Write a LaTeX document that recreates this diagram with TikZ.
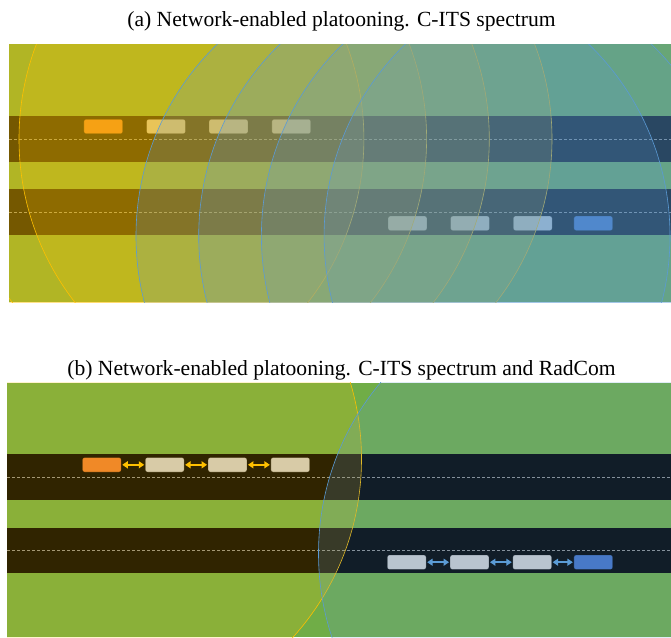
\documentclass[tikz,border=0pt]{standalone}
\usepackage{fontspec}
\setmainfont{Liberation Serif}
\usetikzlibrary{arrows.meta}
\definecolor{cGreen}{HTML}{70AD47}
\definecolor{cYel}{HTML}{FFC000}
\definecolor{cBlue}{HTML}{5B9BD5}
\definecolor{cOrange}{HTML}{ED7D31}
\definecolor{cCar}{HTML}{D0CECE}
\definecolor{cLead}{HTML}{4472C4}
\definecolor{cLane}{HTML}{8F8F8F}
\begin{document}
\begin{tikzpicture}[x=1pt,y=-1pt,
  title/.style={font=\fontsize{21.6}{25}\selectfont, inner sep=0pt, anchor=base},
  car/.style={rectangle, rounded corners=2.2pt, minimum width=38.7pt, minimum height=14.4pt, inner sep=0pt, draw=black, draw opacity=0.3, line width=0.6pt},
  road/.style={fill=black},
  lane/.style={draw=cLane, line width=0.5pt, dash pattern=on 3pt off 2pt},
  ycirc/.style={fill=cYel, fill opacity=0.19, draw=cYel, line width=0.6pt},
  bcirc/.style={fill=cBlue, fill opacity=0.19, draw=cBlue, line width=0.6pt},
  link/.style={{Triangle[length=5.5pt,width=7pt]}-{Triangle[length=5.5pt,width=7pt]}, line width=2pt, shorten <=0.8pt, shorten >=0.8pt}
]
\useasboundingbox (0,0) rectangle (671,637);

% ---------------- Panel (a) ----------------
\node[title] (ta) at (341.5,26.8) {(a) Network-enabled platooning. C-ITS spectrum};
\begin{scope}
\clip (9,44.3) rectangle (671,302);
\fill[cGreen] (9,44.3) rectangle (671,302);
\fill[road] (9,116) rectangle (671,162);
\fill[road] (9,189) rectangle (671,235);
\draw[lane] (9,139.3) -- (671,139.3);
\draw[lane] (9,212) -- (671,212);
\node[car, fill=cOrange] (a1) at (103.3,126.5) {};
\node[car, fill=cCar] (a2) at (166,126.5) {};
\node[car, fill=cCar] (a3) at (228.5,126.5) {};
\node[car, fill=cCar] (a4) at (291.3,126.5) {};
\node[car, fill=cCar] (a5) at (407.5,223.3) {};
\node[car, fill=cCar] (a6) at (470,223.3) {};
\node[car, fill=cCar] (a7) at (532.7,223.3) {};
\node[car, fill=cLead] (a8) at (593.3,223.3) {};
\path[ycirc] (97.4,139) circle[radius=266.5pt];
\path[ycirc] (160.1,139) circle[radius=266.5pt];
\path[ycirc] (222.8,139) circle[radius=266.5pt];
\path[ycirc] (285.5,139) circle[radius=266.5pt];
\path[bcirc] (403,236) circle[radius=267pt];
\path[bcirc] (465.7,236) circle[radius=267pt];
\path[bcirc] (528.4,236) circle[radius=267pt];
\path[bcirc] (591.1,236) circle[radius=267pt];
\end{scope}

% ---------------- Panel (b) ----------------
\node[title] (tb) at (341.5,375.7) {(b) Network-enabled platooning. C-ITS spectrum and RadCom};
\begin{scope}
\clip (7,382.7) rectangle (671,637);
\fill[cGreen] (7,382.7) rectangle (671,637);
\fill[road] (7,454.3) rectangle (671,500);
\fill[road] (7,527.7) rectangle (671,573.3);
\draw[lane] (7,477.3) -- (671,477.3);
\draw[lane] (7,550.3) -- (671,550.3);
\node[car, fill=cOrange] (b1) at (101.8,464.8) {};
\node[car, fill=cCar] (b2) at (164.7,464.8) {};
\node[car, fill=cCar] (b3) at (227.5,464.8) {};
\node[car, fill=cCar] (b4) at (290.3,464.8) {};
\node[car, fill=cCar] (b5) at (406.7,562.2) {};
\node[car, fill=cCar] (b6) at (469.5,562.2) {};
\node[car, fill=cCar] (b7) at (532.2,562.2) {};
\node[car, fill=cLead] (b8) at (593.3,562.2) {};
\draw[link, draw=cYel, fill=cYel] (b1) -- (b2);
\draw[link, draw=cYel, fill=cYel] (b2) -- (b3);
\draw[link, draw=cYel, fill=cYel] (b3) -- (b4);
\draw[link, draw=cBlue, fill=cBlue] (b5) -- (b6);
\draw[link, draw=cBlue, fill=cBlue] (b6) -- (b7);
\draw[link, draw=cBlue, fill=cBlue] (b7) -- (b8);
\path[ycirc] (95.5,459) circle[radius=266pt];
\path[bcirc] (585,553.5) circle[radius=266.5pt];
\end{scope}
\end{tikzpicture}
\end{document}
